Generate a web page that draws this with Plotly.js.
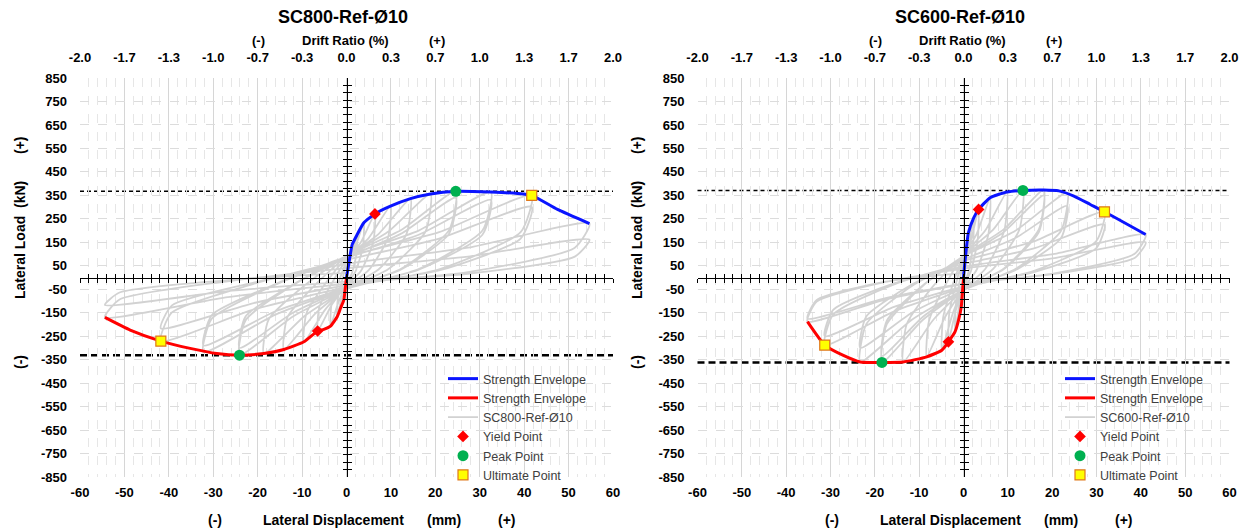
<!DOCTYPE html>
<html><head><meta charset="utf-8">
<script src="https://cdn.plot.ly/plotly-3.0.1.min.js"></script>
<style>html,body{margin:0;padding:0;background:#fff;}#chart{width:1246px;height:531px;}</style>
</head><body><div id="chart"></div>
<script>
// ---------- tick labels ----------
const dispTicks = [-60,-50,-40,-30,-20,-10,0,10,20,30,40,50,60];
const driftLabels = ['-2.0','-1.7','-1.3','-1.0','-0.7','-0.3','0.0','0.3','0.7','1.0','1.3','1.7','2.0'];
const loadTicks = [-850,-750,-650,-550,-450,-350,-250,-150,-50,50,150,250,350,450,550,650,750,850];

// ---------- SC800-Ref-Ø10 ----------
const sc800CycleDisp = [0,
 2.4,2.26,1.2,0,-1.05,-2.1,-1.97,-1.05,0,1.95,
 3.9,3.67,1.95,0,-1.8,-3.6,-3.38,-1.8,0,3.2,
 6.4,6.0,3.2,0,-3.25,-6.5,-6.1,-3.25,0,4.95,
 9.9,9.3,4.95,0,-4.8,-9.6,-9.0,-4.8,0,7.2,
 14.4,13.5,7.2,0,-7.05,-14.1,-13.3,-7.05,0,9.45,
 18.9,17.8,9.45,0,-9.3,-18.6,-17.5,-9.3,0,12.3,
 24.6,23.1,12.3,0,-12.05,-24.1,-22.7,-12.05,0,12.3,
 24.6,23.1,12.3,0,-12.05,-24.1,-22.7,-12.05,0,16.25,
 32.5,30.6,16.25,0,-16.1,-32.2,-30.3,-16.1,0,16.25,
 32.5,30.6,16.25,0,-16.1,-32.2,-30.3,-16.1,0,20.85,
 41.7,39.2,20.85,0,-20.9,-41.8,-39.3,-20.9,0,20.85,
 41.7,39.2,20.85,0,-20.9,-41.8,-39.3,-20.9,0,27.35,
 54.7,51.4,27.35,0,-27.2,-54.4,-51.1,-27.2,0,27.35,
 54.7,51.4,27.35,0,-27.2,-54.4,-51.1,-27.2,0];
const sc800CycleLoad = [0,
 183,101,18,-25,-84,-167,-92,-17,58,128,
 233,128,23,-31,-104,-207,-114,-21,68,149,
 271,149,27,-34,-114,-228,-125,-23,76,167,
 304,167,30,-41,-137,-274,-151,-27,84,185,
 336,185,34,-46,-154,-307,-169,-31,89,196,
 356,196,36,-49,-162,-324,-178,-32,92,202,
 367,202,37,-50,-166,-331,-182,-33,85,187,
 340,187,34,-45,-150,-300,-165,-30,91,200,
 364,200,36,-48,-159,-318,-175,-32,83,182,
 330,182,33,-44,-145,-290,-160,-29,88,193,
 350,193,35,-41,-136,-271,-149,-27,75,166,
 301,166,30,-33,-109,-217,-119,-22,58,127,
 230,127,23,-26,-85,-170,-94,-17,40,89,
 161,89,16,-18,-59,-117,-64,-12,20];
const sc800EnvPosDisp = [0,0.53,1.28,2.4,3.9,6.4,9.9,14.4,18.9,24.6,32.5,38.5,41.7,47.5,54.7];
const sc800EnvPosLoad = [0,61,140,183,233,271,304,336,356,367,364,358,350,290,230];
const sc800EnvNegDisp = [0,-0.23,-0.6,-1.35,-2.1,-3.6,-5.1,-6.5,-9.6,-14.1,-18.6,-24.1,-29.2,-35.2,-41.8,-48.7,-54.4];
const sc800EnvNegLoad = [0,-38,-95,-131,-167,-207,-221,-228,-274,-307,-324,-331,-324,-302,-271,-224,-170];
const sc800YieldDisp = [6.4,-6.5], sc800YieldLoad = [271,-228];
const sc800PeakDisp = [24.6,-24.1], sc800PeakLoad = [367,-331];
const sc800UltDisp = [41.7,-41.8], sc800UltLoad = [350,-271];

// ---------- SC600-Ref-Ø10 ----------
const sc600CycleDisp = [0,
 2.3,2.16,1.15,0,-0.95,-1.9,-1.79,-0.95,0,1.7,
 3.4,3.2,1.7,0,-1.7,-3.4,-3.2,-1.7,0,3.0,
 6.0,5.64,3.0,0,-2.45,-4.9,-4.6,-2.45,0,4.9,
 9.8,9.2,4.9,0,-4.15,-8.3,-7.8,-4.15,0,6.7,
 13.4,12.6,6.7,0,-6.8,-13.6,-12.8,-6.8,0,9.05,
 18.1,17.0,9.05,0,-9.2,-18.4,-17.3,-9.2,0,9.05,
 18.1,17.0,9.05,0,-9.2,-18.4,-17.3,-9.2,0,11.7,
 23.4,22.0,11.7,0,-11.65,-23.3,-21.9,-11.65,0,11.7,
 23.4,22.0,11.7,0,-11.65,-23.3,-21.9,-11.65,0,15.9,
 31.8,29.9,15.9,0,-15.65,-31.3,-29.4,-15.65,0,15.9,
 31.8,29.9,15.9,0,-15.65,-31.3,-29.4,-15.65,0,20.55,
 41.1,38.6,20.55,0,-17.6,-35.2,-33.1,-17.6,0,20.55,
 41.1,38.6,20.55,0,-17.6,-35.2,-33.1,-17.6,0];
const sc600CycleLoad = [0,
 254,140,25,-35,-116,-231,-127,-23,73,160,
 290,160,29,-41,-137,-274,-151,-27,85,187,
 340,187,34,-47,-155,-310,-171,-31,91,200,
 364,200,36,-51,-169,-338,-186,-34,93,204,
 371,204,37,-54,-180,-360,-198,-36,93,205,
 373,205,37,-54,-181,-362,-199,-36,88,193,
 350,193,35,-50,-168,-335,-184,-34,90,199,
 361,199,36,-54,-180,-360,-198,-36,76,168,
 305,168,31,-45,-150,-300,-165,-30,70,154,
 280,154,28,-43,-144,-288,-158,-29,57,124,
 226,124,23,-38,-125,-250,-138,-25,46,101,
 183,101,18,-28,-94,-188,-103,-19,38,83,
 150,83,15,-26,-88,-175,-96,-18,20];
const sc600EnvPosDisp = [0,0.38,1.1,2.3,3.4,6.0,9.8,13.4,18.1,21.5,24.9,28.6,31.8,41.1];
const sc600EnvPosLoad = [0,76,190,254,290,340,364,371,373,369,347,311,280,183];
const sc600EnvNegDisp = [0,-0.2,-0.5,-1.1,-1.9,-3.4,-4.9,-8.3,-13.6,-18.4,-23.3,-27.1,-31.3,-35.2];
const sc600EnvNegLoad = [0,-53,-124,-181,-231,-274,-310,-338,-360,-362,-360,-332,-288,-188];
const sc600YieldDisp = [3.4,-3.4], sc600YieldLoad = [290,-274];
const sc600PeakDisp = [13.4,-18.4], sc600PeakLoad = [371,-362];
const sc600UltDisp = [31.8,-31.3], sc600UltLoad = [280,-288];

// ---------- layout helpers ----------
const W = 1246, H = 531;
const FONT = 'Liberation Sans, Arial, sans-serif';
const NARROW = 'Liberation Sans Narrow, Liberation Sans, Arial, sans-serif';
const px = v => v / W, py = v => 1 - v / H;
const yDom = [py(477), py(78)];
const yMid = (yDom[0] + yDom[1]) / 2;
const xRange = [dispTicks[0], dispTicks[dispTicks.length - 1]];
const yRange = [loadTicks[0], loadTicks[loadTicks.length - 1]];

function panel(p) {
  const ax = p.ax;
  const traces = [];
  traces.push({x: p.cyc[0], y: p.cyc[1], xaxis: ax.x, yaxis: ax.y, type: 'scatter', mode: 'lines',
    name: p.name, legend: p.legend, legendrank: 3,
    line: {color: '#d2d2d2', width: 1.8, shape: 'spline', smoothing: 0.6}, hoverinfo: 'skip'});
  traces.push({x: p.envP[0], y: p.envP[1], xaxis: ax.x, yaxis: ax.y, mode: 'lines', name: 'Strength Envelope',
    legend: p.legend, legendrank: 1, line: {color: '#0a14ff', width: 3, shape: 'spline', smoothing: 0.5}});
  traces.push({x: p.envN[0], y: p.envN[1], xaxis: ax.x, yaxis: ax.y, mode: 'lines', name: 'Strength Envelope',
    legend: p.legend, legendrank: 2, line: {color: '#ff0000', width: 3, shape: 'spline', smoothing: 0.5}});
  traces.push({x: p.yld[0], y: p.yld[1], xaxis: ax.x, yaxis: ax.y, mode: 'markers', name: 'Yield Point',
    legend: p.legend, legendrank: 4, marker: {symbol: 'diamond', color: '#ff0000', size: 9}});
  traces.push({x: p.pk[0], y: p.pk[1], xaxis: ax.x, yaxis: ax.y, mode: 'markers', name: 'Peak Point',
    legend: p.legend, legendrank: 5, marker: {symbol: 'circle', color: '#00b050', size: 11}});
  traces.push({x: p.ult[0], y: p.ult[1], xaxis: ax.x, yaxis: ax.y, mode: 'markers', name: 'Ultimate Point',
    legend: p.legend, legendrank: 6, marker: {symbol: 'square', color: '#ffff00', size: 10, line: {color: '#e0781a', width: 1.2}}});
  [[ax.xt, ax.y], [ax.xc1, ax.y], [ax.xc2, ax.y], [ax.x, ax.yc1], [ax.x, ax.yc2]].forEach(([xa, ya]) => {
    traces.push({x: [null], y: [null], xaxis: xa, yaxis: ya, mode: 'markers', showlegend: false, hoverinfo: 'skip'});
  });
  return traces;
}

const axKey = s => s.replace('x', 'xaxis').replace('y', 'yaxis');

function axes(p) {
  const ax = p.ax, L = {};
  const xd = p.xDom, xMid = (xd[0] + xd[1]) / 2;
  L[axKey(ax.x)] = {domain: xd, anchor: ax.y, range: xRange, tickvals: dispTicks, ticktext: dispTicks.map(String),
    showgrid: true, gridcolor: '#d6d6d6', gridwidth: 1, zeroline: false, showline: false, ticks: '',
    ticklabelstandoff: 6,
    minor: {dtick: 2, tick0: 0, showgrid: true, gridcolor: '#e6e6e6', griddash: 'dash', gridwidth: 1, ticks: ''},
    tickfont: {family: FONT, size: 13, color: '#000', weight: 'bold'}, fixedrange: true};
  L[axKey(ax.xt)] = {overlaying: ax.x, anchor: ax.y, side: 'top', range: xRange, tickvals: dispTicks, ticktext: driftLabels,
    showgrid: false, zeroline: false, showline: false, ticks: '', ticklabelstandoff: 12,
    tickfont: {family: NARROW, size: 13, color: '#000', weight: 'bold'}, fixedrange: true};
  const cross = {range: xRange, tick0: 0, dtick: 2, showticklabels: false, showgrid: false, zeroline: false,
    showline: true, linecolor: '#000', linewidth: 1.5, ticklen: 4, tickwidth: 1, tickcolor: '#000',
    anchor: 'free', position: yMid, overlaying: ax.x, fixedrange: true};
  L[axKey(ax.xc1)] = Object.assign({}, cross, {ticks: 'outside', side: 'bottom'});
  L[axKey(ax.xc2)] = Object.assign({}, cross, {ticks: 'inside', side: 'bottom'});
  L[axKey(ax.y)] = {domain: yDom, anchor: ax.x, range: yRange, tickvals: loadTicks, ticktext: loadTicks.map(String),
    showgrid: true, gridcolor: '#dcdcdc', griddash: 'dash', gridwidth: 1, zeroline: false, showline: false, ticks: '',
    ticklabelstandoff: 12,
    tickfont: {family: FONT, size: 13, color: '#000', weight: 'bold'}, fixedrange: true};
  const crossY = {range: yRange, tick0: 0, dtick: 31.5, showticklabels: false, showgrid: false, zeroline: false,
    showline: true, linecolor: '#000', linewidth: 1.5, ticklen: 4, tickwidth: 1, tickcolor: '#000',
    anchor: 'free', position: xMid, overlaying: ax.y, side: 'left', fixedrange: true};
  L[axKey(ax.yc1)] = Object.assign({}, crossY, {ticks: 'outside'});
  L[axKey(ax.yc2)] = Object.assign({}, crossY, {ticks: 'inside'});
  return L;
}

const left = {name: 'SC800-Ref-Ø10', legend: 'legend', xDom: [px(80), px(613)],
  ax: {x: 'x', xt: 'x2', xc1: 'x3', xc2: 'x4', y: 'y', yc1: 'y2', yc2: 'y3'},
  cyc: [sc800CycleDisp, sc800CycleLoad], envP: [sc800EnvPosDisp, sc800EnvPosLoad], envN: [sc800EnvNegDisp, sc800EnvNegLoad],
  yld: [sc800YieldDisp, sc800YieldLoad], pk: [sc800PeakDisp, sc800PeakLoad], ult: [sc800UltDisp, sc800UltLoad]};
const right = {name: 'SC600-Ref-Ø10', legend: 'legend2', xDom: [px(697.5), px(1229.5)],
  ax: {x: 'x5', xt: 'x6', xc1: 'x7', xc2: 'x8', y: 'y4', yc1: 'y5', yc2: 'y6'},
  cyc: [sc600CycleDisp, sc600CycleLoad], envP: [sc600EnvPosDisp, sc600EnvPosLoad], envN: [sc600EnvNegDisp, sc600EnvNegLoad],
  yld: [sc600YieldDisp, sc600YieldLoad], pk: [sc600PeakDisp, sc600PeakLoad], ult: [sc600UltDisp, sc600UltLoad]};

const data = panel(left).concat(panel(right));

const ann = [];
function txt(t, x, y, size, opts) {
  ann.push(Object.assign({text: t, x: px(x), y: py(y), xref: 'paper', yref: 'paper', showarrow: false,
    xanchor: 'center', yanchor: 'middle', font: {family: FONT, size: size, color: '#000', weight: 'bold'}}, opts || {}));
}
const narrowFont = {family: NARROW, size: 13, color: '#000', weight: 'bold'};
[[left, 0], [right, 617]].forEach(([p, dx]) => {
  txt(p.name, 343 + dx, 17, 18);
  txt('(-)', 258 + dx, 40, 13, {font: narrowFont});
  txt('Drift Ratio (%)', 345 + dx, 40, 13, {font: narrowFont});
  txt('(+)', 437 + dx, 40, 13, {font: narrowFont});
  txt('(-)', 215 + dx, 520, 14);
  txt('Lateral Displacement', 333 + dx, 520, 14);
  txt('(mm)', 444 + dx, 520, 14);
  txt('(+)', 507 + dx, 520, 14);
  txt('(+)', 20 + dx, 145, 14, {textangle: -90});
  txt('Lateral Load  (kN)', 20 + dx, 240, 14, {textangle: -90});
  txt('(-)', 20 + dx, 362, 14, {textangle: -90});
});

const shapes = [];
[[left, 'y'], [right, 'y4']].forEach(([p, ya]) => {
  const xa = p.ax.x;
  shapes.push({type: 'line', xref: xa + ' domain', x0: 0, x1: 1, yref: ya, y0: p.pk[1][0], y1: p.pk[1][0],
    line: {color: '#000', width: 1.5, dash: '4px,3px'}, layer: 'below'});
  shapes.push({type: 'line', xref: xa + ' domain', x0: 0, x1: 1, yref: ya, y0: p.pk[1][1], y1: p.pk[1][1],
    line: {color: '#000', width: 2.5, dash: '7px,4px'}, layer: 'below'});
});

const legendStyle = {xanchor: 'left', yanchor: 'top', bgcolor: 'rgba(0,0,0,0)', borderwidth: 0,
  font: {family: FONT, size: 12.5, color: '#404040'}, tracegroupgap: 0, traceorder: 'normal'};

const layout = Object.assign({
  width: W, height: H, margin: {l: 0, r: 0, t: 0, b: 0},
  paper_bgcolor: '#fff', plot_bgcolor: '#fff', showlegend: true,
  legend: Object.assign({x: px(443), y: py(364)}, legendStyle),
  legend2: Object.assign({x: px(1060), y: py(364)}, legendStyle),
  annotations: ann, shapes: shapes, hovermode: false
}, axes(left), axes(right));

Plotly.newPlot('chart', data, layout, {staticPlot: true, displayModeBar: false});
</script></body></html>
